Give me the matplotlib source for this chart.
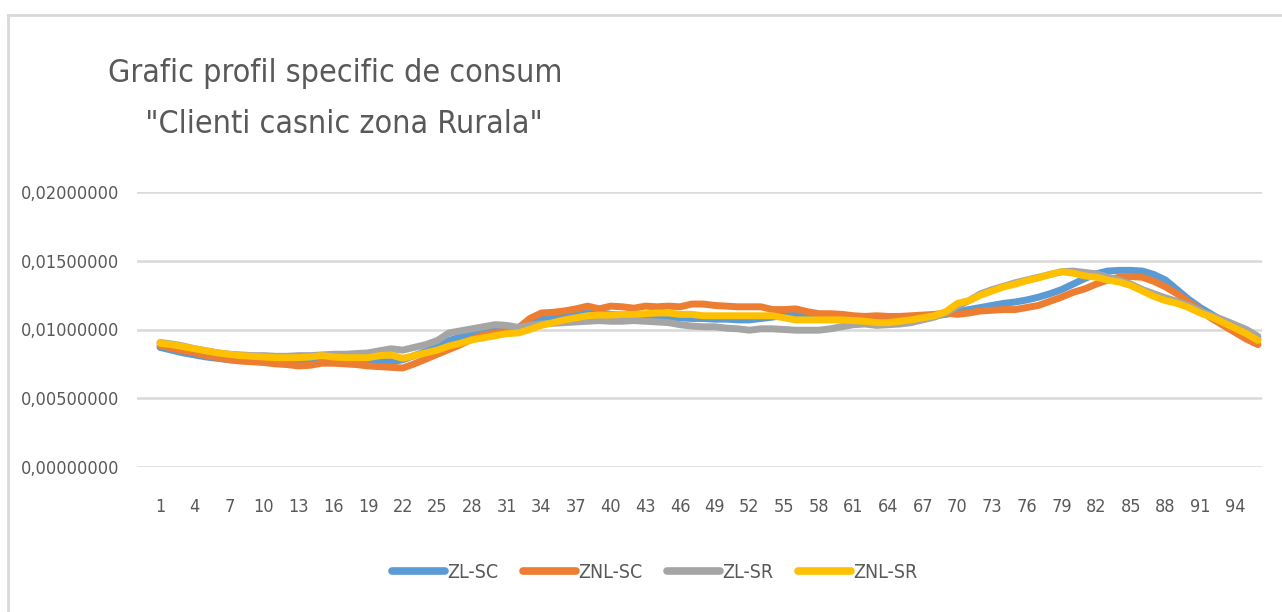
import numpy as np
import matplotlib
matplotlib.use("Agg")
import matplotlib.pyplot as plt
from matplotlib.lines import Line2D
from matplotlib.ticker import FuncFormatter, MultipleLocator

plt.rcParams['font.family'] = ['DejaVu Sans']
plt.rcParams['font.stretch'] = 'condensed'   # closer to the narrow Excel font

# ── Data (values in units of 0.001) ─────────────────────────
intervals = list(range(1, 97))

zl_sc = [8.70, 8.50, 8.30, 8.15, 8.00, 7.90, 7.80, 7.75, 7.75, 7.75,
         7.75, 7.80, 7.80, 7.80, 7.85, 7.85, 7.80, 7.75, 7.70, 7.70,
         7.65, 7.80, 8.10, 8.40, 8.80, 9.20, 9.45, 9.60, 9.80, 9.95,
         10.05, 10.15, 10.50, 10.85, 10.95, 11.00, 11.10, 11.20, 11.20, 11.10,
         11.05, 11.00, 11.00, 10.95, 10.90, 10.85, 10.80, 10.80, 10.75, 10.75,
         10.70, 10.70, 10.80, 10.90, 11.05, 11.05, 10.90, 10.80, 10.75, 10.70,
         10.65, 10.60, 10.60, 10.60, 10.70, 10.80, 10.90, 11.00, 11.10, 11.30,
         11.45, 11.60, 11.75, 11.90, 12.00, 12.15, 12.35, 12.60, 12.90, 13.30,
         13.70, 14.05, 14.25, 14.30, 14.30, 14.25, 14.00, 13.60, 12.90, 12.20,
         11.60, 11.10, 10.60, 10.20, 9.80, 9.30]

znl_sc = [8.85, 8.65, 8.45, 8.30, 8.10, 7.95, 7.80, 7.70, 7.65, 7.60,
          7.50, 7.45, 7.35, 7.40, 7.55, 7.55, 7.50, 7.45, 7.35, 7.30,
          7.25, 7.20, 7.50, 7.85, 8.20, 8.55, 8.90, 9.30, 9.60, 9.75,
          9.90, 10.10, 10.80, 11.20, 11.25, 11.35, 11.50, 11.70, 11.50, 11.70,
          11.65, 11.55, 11.70, 11.65, 11.70, 11.65, 11.85, 11.85, 11.75, 11.70,
          11.65, 11.65, 11.65, 11.45, 11.45, 11.50, 11.30, 11.15, 11.15, 11.10,
          11.00, 10.95, 11.00, 10.95, 10.95, 11.00, 11.05, 11.10, 11.20, 11.10,
          11.20, 11.35, 11.40, 11.45, 11.45, 11.60, 11.75, 12.05, 12.35, 12.70,
          12.95, 13.30, 13.60, 13.80, 13.85, 13.80, 13.50, 13.10, 12.60, 12.00,
          11.40, 10.80, 10.30, 9.80, 9.30, 8.90]

zl_sr = [9.05, 8.95, 8.80, 8.60, 8.45, 8.30, 8.20, 8.15, 8.10, 8.10,
         8.05, 8.05, 8.10, 8.10, 8.15, 8.20, 8.20, 8.25, 8.30, 8.45,
         8.60, 8.50, 8.70, 8.90, 9.20, 9.75, 9.90, 10.05, 10.20, 10.35,
         10.30, 10.15, 10.30, 10.40, 10.45, 10.50, 10.55, 10.60, 10.65, 10.60,
         10.60, 10.65, 10.60, 10.55, 10.50, 10.35, 10.25, 10.20, 10.20, 10.10,
         10.05, 9.95, 10.05, 10.05, 10.00, 9.95, 9.95, 9.95, 10.05, 10.20,
         10.35, 10.40, 10.30, 10.35, 10.40, 10.50, 10.70, 10.90, 11.20, 11.70,
         12.10, 12.60, 12.90, 13.15, 13.40, 13.60, 13.80, 14.00, 14.20, 14.25,
         14.15, 14.05, 13.80, 13.60, 13.30, 12.90, 12.60, 12.30, 12.05, 11.75,
         11.35, 11.00, 10.70, 10.35, 10.00, 9.50]

znl_sr = [9.00, 8.90, 8.75, 8.60, 8.45, 8.30, 8.20, 8.10, 8.05, 8.00,
          7.95, 7.95, 7.95, 8.00, 8.10, 8.00, 7.95, 7.95, 7.95, 8.10,
          8.15, 7.90, 8.10, 8.30, 8.50, 8.80, 9.00, 9.25, 9.40, 9.55,
          9.70, 9.75, 10.00, 10.30, 10.50, 10.70, 10.85, 11.00, 11.05, 11.05,
          11.10, 11.10, 11.15, 11.20, 11.20, 11.10, 11.10, 11.00, 11.00, 11.00,
          11.00, 11.00, 11.00, 11.00, 10.85, 10.70, 10.70, 10.70, 10.70, 10.70,
          10.65, 10.60, 10.50, 10.50, 10.60, 10.70, 10.85, 11.00, 11.30, 11.90,
          12.10, 12.50, 12.80, 13.10, 13.30, 13.55, 13.75, 14.00, 14.20, 14.10,
          13.90, 13.80, 13.60, 13.45, 13.20, 12.80, 12.40, 12.10, 11.90, 11.60,
          11.20, 10.90, 10.50, 10.10, 9.70, 9.20]

series_names = ["ZL-SC", "ZNL-SC", "ZL-SR", "ZNL-SR"]
series_colors = ["#5B9BD5", "#ED7D31", "#A5A5A5", "#FFC000"]

title = 'Grafic profil specific de consum\n  "Clienti casnic zona Rurala"'

TEXT = "#595959"
GRID = "#D9D9D9"

fig = plt.figure(figsize=(12.82, 6.12), dpi=100)
fig.patch.set_facecolor("white")

# chart-area frame (clipped on the right and bottom like the source)
fig.add_artist(Line2D([8 / 1282, 1.0], [1 - 15 / 612, 1 - 15 / 612],
                      color=GRID, lw=2, transform=fig.transFigure))
fig.add_artist(Line2D([8 / 1282, 8 / 1282], [0.0, 1 - 15 / 612],
                      color=GRID, lw=2, transform=fig.transFigure))

ax = fig.add_axes([137 / 1282, 1 - 467 / 612, 1125 / 1282, 275 / 612])

x = np.array(intervals)
for vals, name, col in zip([zl_sc, znl_sc, zl_sr, znl_sr], series_names, series_colors):
    ax.plot(x, np.array(vals) / 1000.0, color=col, lw=5, label=name,
            solid_capstyle="round", solid_joinstyle="round")

ax.set_ylim(0, 0.02)
ax.set_xlim(-0.99, 96.35)
ax.yaxis.set_major_locator(MultipleLocator(0.005))
ax.yaxis.set_major_formatter(FuncFormatter(lambda v, p: f"{v:.8f}".replace(".", ",")))
ax.set_xticks(intervals[::3])
ax.grid(axis="y", color=GRID, lw=1.8)
ax.set_axisbelow(True)
for s in ax.spines.values():
    s.set_visible(False)
ax.tick_params(axis="both", length=0, labelcolor=TEXT, labelsize=13)
ax.tick_params(axis="y", pad=13)
ax.tick_params(axis="x", pad=22)

fig.text(335 / 1282, 1 - 99 / 612, title, ha="center", va="center",
         fontsize=23, color=TEXT, linespacing=1.8)

leg = fig.legend(loc="center", bbox_to_anchor=(655 / 1282, 1 - 572 / 612), ncol=4,
                 frameon=False, fontsize=14, labelcolor=TEXT,
                 handlelength=2.7, handletextpad=0.15, columnspacing=1.25)
for h in leg.legend_handles:
    h.set_linewidth(5.5)

plt.savefig("out.png", dpi=100)
plt.close()
